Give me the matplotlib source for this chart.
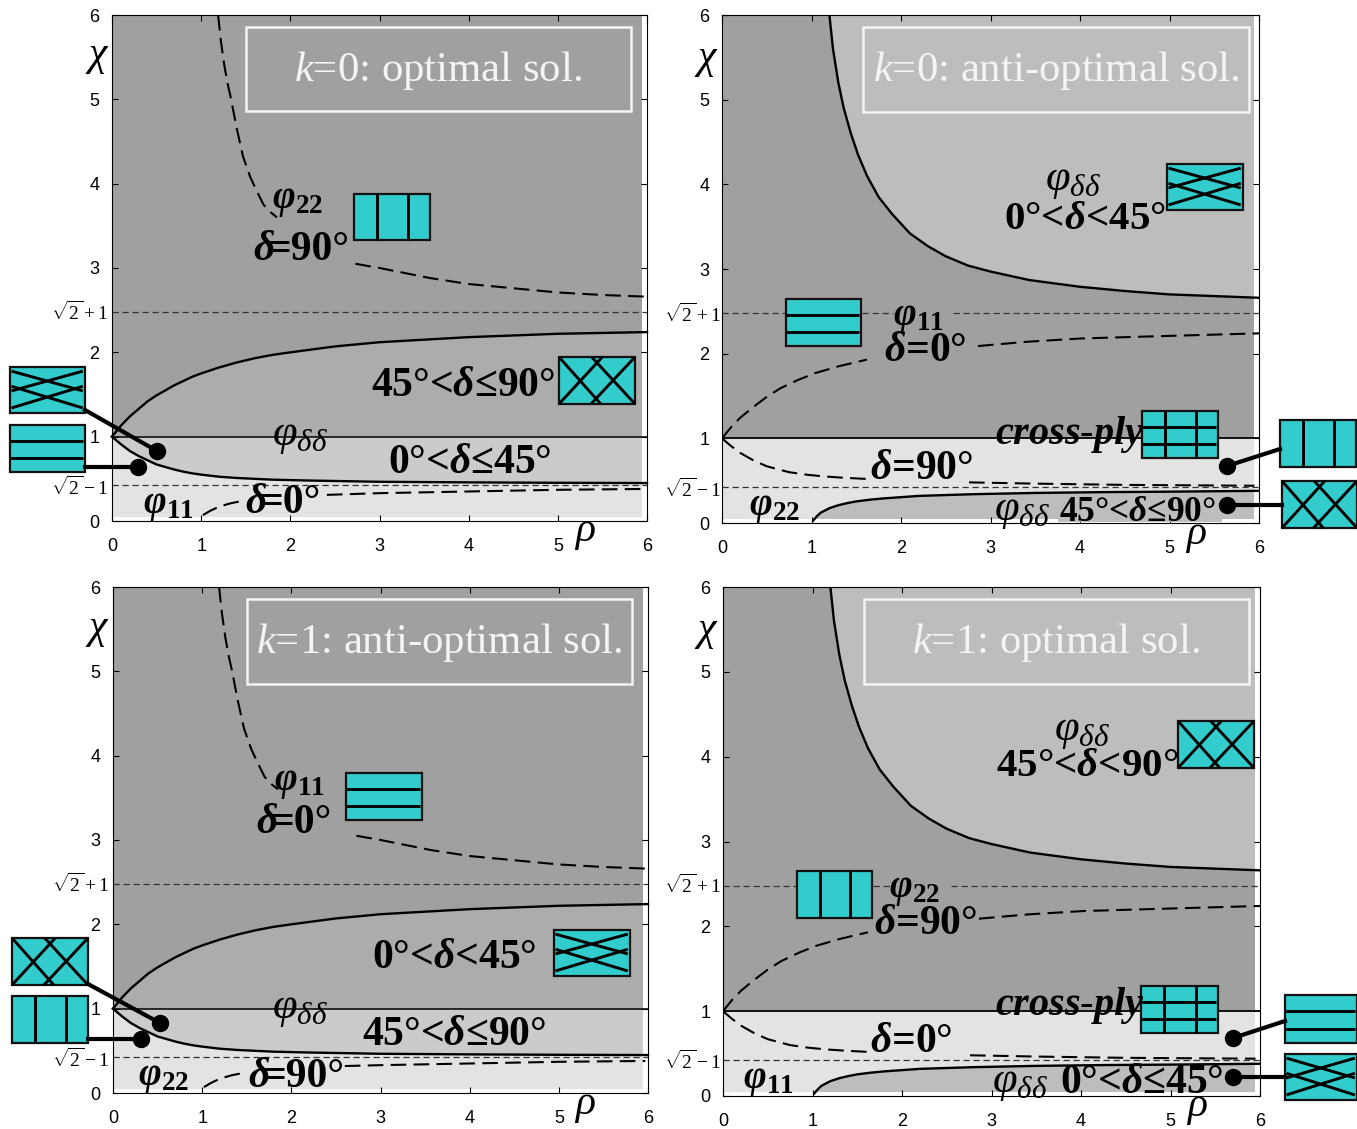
import numpy as np
import matplotlib
matplotlib.use('Agg')
import matplotlib.pyplot as plt
from matplotlib.patches import Rectangle

plt.rcParams['font.family'] = ['Liberation Serif', 'DejaVu Sans']
plt.rcParams['mathtext.fontset'] = 'custom'
plt.rcParams['mathtext.rm'] = 'Liberation Serif'
plt.rcParams['mathtext.it'] = 'Liberation Serif:italic'
plt.rcParams['mathtext.bf'] = 'Liberation Serif:bold'
plt.rcParams['mathtext.bfit'] = 'Liberation Serif:italic:bold'

# courbes (rho, chi)
rise_x = [0, .1, .2, .3, .4, .5, .6, .7, .8, .9, 1, 1.2, 1.4, 1.6, 1.8, 2, 2.5, 3, 3.5, 4, 5, 6]
rise_y = [1, 1.13, 1.24, 1.33, 1.42, 1.49, 1.55, 1.61, 1.66, 1.71, 1.75, 1.82, 1.88, 1.93, 1.97, 2.0, 2.07, 2.12,
          2.15, 2.18, 2.22, 2.24]
fall_x = [0, .1, .2, .3, .4, .5, .6, .7, .8, .9, 1, 1.2, 1.4, 1.6, 1.8, 2.2, 3, 4, 5, 6]
fall_y = [1, .91, .83, .77, .72, .67, .64, .61, .585, .565, .55, .525, .51, .5, .49, .48, .465, .458, .453, .45]
top_dash_x = [1.19, 1.22, 1.26, 1.3, 1.33, 1.4, 1.47, 1.55, 1.62, 1.7, 1.78, 1.85, np.nan,
              2.73, 3, 3.57, 4, 4.5, 5, 5.5, 6]
top_dash_y = [6, 5.7, 5.4, 5.17, 5.03, 4.65, 4.32, 4.08, 3.92, 3.75, 3.66, 3.6, np.nan,
              3.05, 3, 2.88, 2.81, 2.76, 2.71, 2.68, 2.66]
low_dash_x_a = [1.02, 1.1, 1.2, 1.33, 1.47, np.nan, 2.41, 3, 4, 5, 5.97]
low_dash_y_a = [.07, .12, .17, .21, .24, np.nan, .31, .33, .35, .37, .38]
low_dash_x_c = [1.02, 1.1, 1.2, 1.33, 1.47, np.nan, 2.6, 3, 4, 5, 5.97]
low_dash_y_c = [.07, .12, .17, .21, .24, np.nan, .32, .33, .35, .37, .38]

hyper_x = [1.2, 1.24, 1.3, 1.36, 1.44, 1.52, 1.62, 1.75, 1.9, 2.1, 2.3, 2.5, 2.75, 3, 3.43, 4, 4.5, 5, 5.5, 6]
hyper_y = [6, 5.6, 5.2, 4.9, 4.6, 4.35, 4.1, 3.85, 3.65, 3.42, 3.27, 3.15, 3.04, 2.97, 2.87, 2.79, 2.74, 2.7, 2.68,
           2.66]
up_dash_x = [0, .1, .2, .35, .5, .65, .85, 1.04, 1.3, 1.62, np.nan, 2.86, 3.4, 4.02, 5, 6]
up_dash_y = [1, 1.13, 1.24, 1.37, 1.49, 1.59, 1.69, 1.77, 1.85, 1.93, np.nan, 2.09, 2.14, 2.18, 2.21, 2.24]
down_dash_x = [0, .1, .2, .35, .5, .75, .95, 1.14, 1.35, 1.62, np.nan, 2.76, 3.5, 4.5, 5.95]
down_dash_y = [1, .91, .83, .74, .67, .6, .57, .55, .535, .52, np.nan, .48, .465, .45, .44]
low_x = [1.02, 1.06, 1.1, 1.2, 1.3, 1.4, 1.5, 1.65, 1.8, 2, 2.2, 2.5, 2.8, 3.5, 4.3, 5, 6]
low_y = [.03, .08, .12, .175, .21, .235, .255, .275, .29, .305, .32, .33, .34, .355, .365, .37, .38]

ticks = [0, 1, 2, 3, 4, 5, 6]
line_up = 2.48
line_down = 0.43

DARK = '#A0A0A0'
MID = '#ACACAC'
MIDLOW = '#CBCBCB'
LIGHT = '#E3E3E3'
SILVER = '#BDBDBD'
CYAN = '#33CCCC'

W, H = 1357, 1129
fig = plt.figure(figsize=(W / 100, H / 100), dpi=100)


def make_axes(left, right, top, bottom):
    ax = fig.add_axes([left / W, 1 - bottom / H, (right - left) / W, (bottom - top) / H])
    ax.set_xlim(0, 6)
    ax.set_ylim(0, 6)
    ax.set_xticks(ticks)
    ax.set_yticks(ticks)
    ax.tick_params(direction='in', top=True, right=True, length=4, width=0.8, labelsize=13)
    ax.tick_params(axis='x', pad=12)
    ax.tick_params(axis='y', pad=9)
    for lab in ax.get_xticklabels() + ax.get_yticklabels():
        lab.set_fontfamily('Liberation Sans')
    return ax


def add_region(ax, artist):
    # la zone grise s'arrete un peu avant les bords droit et bas
    clip = Rectangle((0, .06), 5.93, 5.94, transform=ax.transData)
    artist.set_clip_path(clip)


def hline(ax, y, gap=None):
    if gap is None:
        ax.plot([0, 6], [y, y], color='#333333', lw=0.9, ls=(0, (5, 3)))
    else:
        ax.plot([0, gap[0]], [y, y], color='#333333', lw=0.9, ls=(0, (5, 3)))
        ax.plot([gap[1], 6], [y, y], color='#333333', lw=0.9, ls=(0, (5, 3)))


def panel_outer(ax, low_dash_x, low_dash_y):
    add_region(ax, ax.fill_between([0, 6], 0, 6, color=DARK, lw=0))
    add_region(ax, ax.fill_between(rise_x, 1, rise_y, color=MID, lw=0))
    add_region(ax, ax.fill_between([0, 6], 0, 1, color=MIDLOW, lw=0))
    add_region(ax, ax.fill_between(fall_x, 0, fall_y, color=LIGHT, lw=0))
    ax.plot(rise_x, rise_y, color='k', lw=1.7, clip_on=False)
    ax.plot(fall_x, fall_y, color='k', lw=1.7, clip_on=False)
    ax.plot([0, 6], [1, 1], color='k', lw=1.1)
    ax.plot(top_dash_x, top_dash_y, color='k', lw=1.5, ls=(0, (7.5, 3.5)))
    ax.plot(low_dash_x, low_dash_y, color='k', lw=1.5, ls=(0, (7.5, 3.5)))
    hline(ax, line_up)
    hline(ax, line_down)


def panel_inner(ax, gap):
    add_region(ax, ax.fill_between([0, 6], 0, 6, color=DARK, lw=0))
    add_region(ax, ax.fill_between(hyper_x, hyper_y, 6, color=SILVER, lw=0))
    add_region(ax, ax.fill_between([0, 6], 0, 1, color=LIGHT, lw=0))
    add_region(ax, ax.fill_between(low_x, 0, low_y, color=SILVER, lw=0))
    ax.plot(hyper_x, hyper_y, color='k', lw=1.7)
    ax.plot(low_x, low_y, color='k', lw=1.7)
    ax.plot([0, 6], [1, 1], color='#111111', lw=1.4)
    ax.plot(up_dash_x, up_dash_y, color='k', lw=1.5, ls=(0, (7.5, 3.5)))
    ax.plot(down_dash_x, down_dash_y, color='k', lw=1.5, ls=(0, (7.5, 3.5)))
    hline(ax, line_up, gap)
    hline(ax, line_down)


ax_a = make_axes(112, 647, 15, 521)
ax_b = make_axes(722, 1259, 15, 523)
ax_c = make_axes(113, 648, 587, 1093)
ax_d = make_axes(723, 1260, 587, 1096)
panel_outer(ax_a, low_dash_x_a, low_dash_y_a)
panel_inner(ax_b, (1.91, 2.58))
panel_outer(ax_c, low_dash_x_c, low_dash_y_c)
panel_inner(ax_d, (1.87, 2.55))

# calque en pixels pour les etiquettes et les petits stratifies
ov = fig.add_axes([0, 0, 1, 1], zorder=5)
ov.set_xlim(0, W)
ov.set_ylim(H, 0)
ov.axis('off')
ov.add_patch(Rectangle((1058, 505), 164, 17, fc=SILVER, ec='none', zorder=1))


def icon(x0, y0, x1, y1, kind):
    w, h = x1 - x0, y1 - y0
    ov.add_patch(Rectangle((x0, y0), w, h, fc=CYAN, ec='#111111', lw=1.6, zorder=3))
    segs = []
    if kind in ('h', 'grid'):
        segs += [(0, .33, .97, .33), (0, .71, .97, .71)]
    if kind in ('v', 'grid'):
        segs += [(.30, 0, .30, 1), (.71, 0, .71, 1)]
    if kind == 'low':
        segs += [(.02, .09, .97, .52), (.02, .52, .97, .09), (.02, .42, .97, .89), (.02, .89, .97, .42)]
    if kind == 'xx':
        segs += [(0, 0, .55, 1), (.43, 0, 1, 1), (.57, 0, 0, 1), (1, 0, .42, 1)]
    for a, b, c, d in segs:
        ov.plot([x0 + a * w, x0 + c * w], [y0 + b * h, y0 + d * h], color='k', lw=2.1, zorder=4,
                solid_capstyle='butt')


def link(x0, y0, x1, y1):
    ov.plot([x0, x1], [y0, y1], color='k', lw=3, zorder=5)
    ov.plot([x1], [y1], 'o', color='k', ms=11.5, zorder=5)


def label(x, y, s, size=30, **kw):
    ov.text(x, y, s, fontsize=size, fontweight='bold', ha='left', va='baseline', color='k', zorder=6, **kw)


def phi(x, y, sub):
    label(x, y, r'$\mathbfit{\varphi}_{\mathbf{' + sub + '}}$', size=28)


def phi_dd(x, y):
    label(x, y, r'$\varphi_{\delta\delta}$', size=32)


D = r'$\mathbfit{\delta}$'


def delta_eq(x, y, rest):
    # le delta mord sur le signe egal dans les panneaux de gauche
    label(x, y, D)
    label(x + 15, y, rest)


# cadres de titre
titles = [(246, 27, 631, 111, r'$k$=0: optimal sol.'),
          (863, 27, 1249, 112, r'$k$=0: anti-optimal sol.'),
          (247, 599, 632, 684, r'$k$=1: anti-optimal sol.'),
          (864, 599, 1249, 684, r'$k$=1: optimal sol.')]
for x0, y0, x1, y1, s in titles:
    ov.add_patch(Rectangle((x0, y0), x1 - x0, y1 - y0, fc='none', ec='#F4F4F4', lw=1.8))
    ov.text((x0 + x1) / 2, (y0 + y1) / 2 + 12, s, fontsize=30.8, color='#F4F4F4', ha='center', va='baseline')

# axes chi et rho
for x, y, s in [(97, 57, r'$\chi$'), (585, 533, r'$\rho$'), (706, 60, r'$\chi$'),
                (1196, 536, r'$\rho$'), (97, 630, r'$\chi$'), (585, 1106, r'$\rho$'),
                (706, 632, r'$\chi$'), (1197, 1108, r'$\rho$')]:
    ov.text(x, y, s, fontsize=30, ha='center', va='center')

# racines
for x, y, s in [(108, 312, r'$\sqrt{2}+1$'), (108, 487, r'$\sqrt{2}-1$'),
                (721, 314, r'$\sqrt{2}+1$'), (721, 489, r'$\sqrt{2}-1$'),
                (109, 884, r'$\sqrt{2}+1$'), (109, 1059, r'$\sqrt{2}-1$'),
                (721, 885, r'$\sqrt{2}+1$'), (721, 1061, r'$\sqrt{2}-1$')]:
    ov.text(x, y, s, fontsize=14, ha='right', va='center')

# stratifies
icon(354, 194, 430, 240, 'v')
icon(559, 357, 635, 404, 'xx')
icon(10, 367, 85, 413, 'low')
icon(10, 425, 85, 472, 'h')
link(85, 410, 157, 451)
link(85, 467, 138, 467)

icon(786, 299, 861, 346, 'h')
icon(1167, 164, 1243, 210, 'low')
icon(1142, 411, 1218, 458, 'grid')
icon(1280, 420, 1356, 467, 'v')
icon(1282, 481, 1357, 528, 'xx')
link(1280, 449, 1227, 466)
link(1282, 505, 1227, 505)

icon(346, 773, 422, 820, 'h')
icon(554, 930, 630, 976, 'low')
icon(12, 938, 88, 985, 'xx')
icon(12, 996, 88, 1043, 'v')
link(88, 984, 160, 1023)
link(88, 1039, 141, 1039)

icon(797, 871, 872, 918, 'v')
icon(1178, 721, 1254, 768, 'xx')
icon(1141, 986, 1218, 1033, 'grid')
icon(1285, 995, 1357, 1043, 'h')
icon(1285, 1054, 1357, 1100, 'low')
link(1285, 1021, 1233, 1038)
link(1285, 1077, 1233, 1077)

# etiquettes panneau k=0 optimal
phi(272, 208, '22')
delta_eq(253, 260, '=90°')
label(371, 396, '45°<' + D + '≤90°')
phi_dd(272, 445)
label(388, 473, '0°<' + D + '≤45°')
phi(143, 513, '11')
delta_eq(245, 513, '=0°')

# k=0 anti-optimal
phi_dd(1045, 190)
label(1004, 229, '0°<' + D + '<45°', size=29.5)
phi(893, 325, '11')
label(884, 361, D + '=0°')
label(995, 444, r'$\mathbfit{cross}$-$\mathbfit{ply}$', size=29)
label(870, 479, D + '=90°')
phi(749, 515, '22')
phi_dd(994, 520)
label(1059, 521, '45°<' + D + '≤90°', size=25.5)

# k=1 anti-optimal
phi(274, 790, '11')
delta_eq(256, 833, '=0°')
label(372, 968, '0°<' + D + '<45°')
phi_dd(272, 1018)
label(362, 1045, '45°<' + D + '≤90°')
phi(138, 1085, '22')
delta_eq(248, 1087, '=90°')

# k=1 optimal
phi_dd(1054, 740)
label(996, 776, '45°<' + D + '<90°', size=29.5)
phi(889, 897, '22')
label(874, 934, D + '=90°')
label(995, 1015, r'$\mathbfit{cross}$-$\mathbfit{ply}$', size=29)
label(870, 1052, D + '=0°')
phi(743, 1088, '11')
phi_dd(992, 1092)
label(1060, 1093, '0°<' + D + '≤45°')

fig.savefig('out.png', dpi=100)
